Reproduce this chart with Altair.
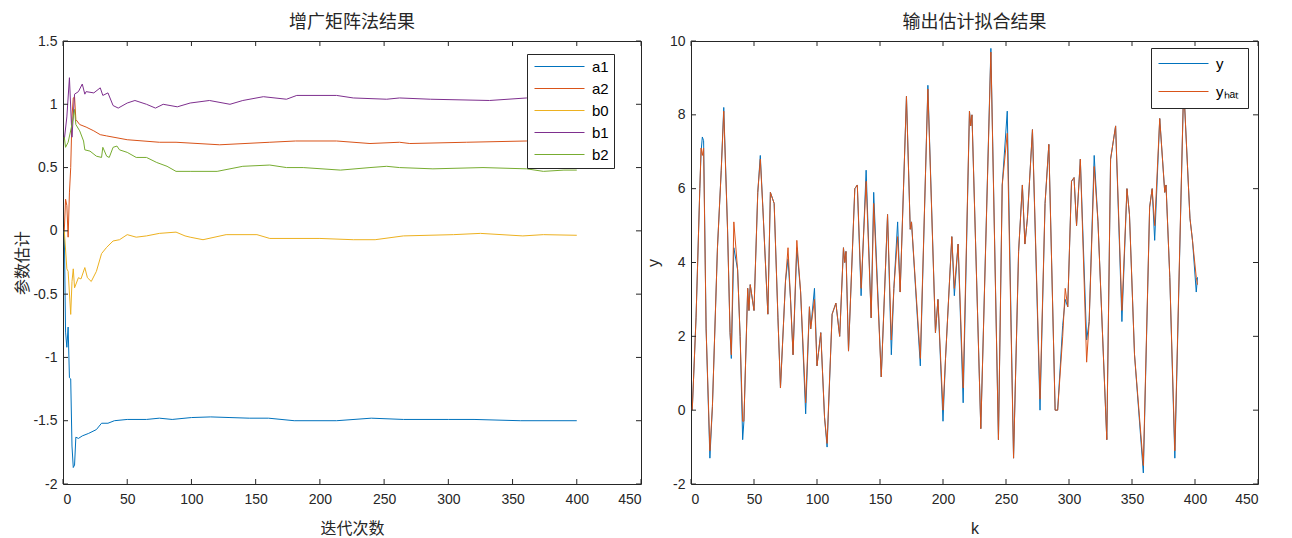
import altair as alt
import pandas as pd

# ---------------- Left panel: parameter estimates ----------------
a1_k = [1, 2, 3, 4, 5, 6, 7, 8, 9, 10, 12, 15, 20, 26, 30, 35, 40, 50, 65, 75, 85, 100, 115, 130, 145, 160, 180, 213, 240, 265, 300, 320, 356, 400]
a1_v = [0.0, -0.8, -0.92, -0.76, -1.16, -1.17, -1.7, -1.87, -1.85, -1.63, -1.64, -1.62, -1.60, -1.57, -1.52, -1.52, -1.50, -1.49, -1.49, -1.48, -1.49, -1.475, -1.47, -1.475, -1.48, -1.48, -1.50, -1.50, -1.48, -1.49, -1.49, -1.49, -1.50, -1.50]

a2_k = [1, 2, 3, 4, 5, 6, 7, 8, 9, 10, 13, 18, 24, 29, 34, 50, 75, 88, 122, 161, 181, 213, 239, 262, 270, 314, 361, 400]
a2_v = [0.0, 0.25, 0.2, -0.05, 0.3, 0.5, 0.9, 1.05, 1.06, 0.88, 0.84, 0.82, 0.79, 0.76, 0.75, 0.72, 0.70, 0.70, 0.68, 0.70, 0.71, 0.71, 0.69, 0.70, 0.69, 0.70, 0.71, 0.70]

b0_k = [1, 3, 4, 6, 7, 8, 9, 12, 14, 17, 19, 22, 26, 30, 34, 39, 44, 50, 57, 65, 75, 88, 95, 99, 109, 127, 151, 161, 200, 226, 243, 265, 304, 325, 358, 374, 400]
b0_v = [0.0, -0.3, -0.32, -0.66, -0.4, -0.30, -0.45, -0.37, -0.38, -0.29, -0.37, -0.40, -0.32, -0.18, -0.13, -0.08, -0.07, -0.03, -0.05, -0.04, -0.02, -0.01, -0.04, -0.05, -0.07, -0.03, -0.03, -0.06, -0.06, -0.07, -0.07, -0.04, -0.03, -0.02, -0.04, -0.03, -0.035]

b1_k = [1, 3, 5, 7, 9, 12, 15, 17, 18, 24, 29, 31, 35, 39, 43, 50, 56, 65, 72, 78, 89, 99, 114, 130, 140, 156, 174, 182, 213, 226, 252, 262, 286, 332, 361, 400]
b1_v = [0.72, 0.9, 1.21, 0.74, 1.08, 1.10, 1.16, 1.08, 1.10, 1.09, 1.13, 1.07, 1.09, 0.99, 0.97, 1.01, 1.03, 1.0, 0.97, 1.0, 0.98, 1.01, 1.03, 1.0, 1.03, 1.06, 1.04, 1.07, 1.07, 1.05, 1.04, 1.05, 1.04, 1.03, 1.05, 1.05]

b2_k = [1, 2, 4, 7, 9, 10, 13, 16, 17, 21, 26, 30, 31, 34, 36, 39, 42, 44, 50, 57, 65, 73, 81, 88, 99, 120, 140, 161, 174, 187, 216, 239, 252, 262, 288, 327, 361, 374, 390, 400]
b2_v = [0.74, 0.66, 0.7, 0.84, 0.96, 0.84, 0.79, 0.71, 0.64, 0.63, 0.59, 0.58, 0.66, 0.59, 0.58, 0.66, 0.67, 0.64, 0.62, 0.58, 0.58, 0.54, 0.51, 0.47, 0.47, 0.47, 0.51, 0.52, 0.50, 0.50, 0.48, 0.50, 0.51, 0.50, 0.49, 0.50, 0.49, 0.47, 0.48, 0.48]

param_names = ["a1", "a2", "b0", "b1", "b2"]
param_colors = ["#0072BD", "#D95319", "#EDB120", "#7E2F8E", "#77AC30"]

# ---------------- Right panel: output fit ----------------
fit_k = [1, 4, 7, 8, 9, 10, 12, 15, 17, 21, 24, 26, 29, 31, 32, 34, 37, 39, 41, 42, 45, 46, 47, 50, 53, 55, 57, 61, 63, 66, 69, 71, 75, 77, 79, 81, 84, 87, 91, 94, 95, 98, 100, 103, 106, 108, 112, 115, 118, 121, 122, 123, 125, 130, 132, 135, 139, 143, 145, 151, 156, 159, 161, 164, 166, 171, 174, 175, 182, 188, 194, 196, 200, 202, 207, 209, 212, 216, 221, 222, 223, 230, 238, 244, 247, 251, 256, 260, 263, 265, 267, 271, 277, 281, 284, 289, 291, 295, 297, 299, 302, 304, 306, 309, 314, 316, 320, 323, 330, 333, 337, 342, 346, 348, 352, 359, 364, 366, 368, 372, 376, 377, 380, 384, 391, 396, 398, 401, 402]
fit_y = [0.0, 2.5, 6.0, 7.0, 7.4, 7.3, 2.2, -1.3, 0.1, 4.4, 6.5, 8.2, 4.9, 2.1, 1.4, 4.4, 3.8, 2.0, -0.8, -0.3, 3.3, 2.7, 3.4, 2.7, 5.9, 6.9, 5.5, 2.6, 5.9, 5.6, 2.5, 0.6, 3.5, 4.1, 3.0, 1.5, 4.4, 3.2, -0.1, 2.8, 2.2, 3.3, 1.2, 2.1, -0.2, -1.0, 2.6, 2.9, 2.0, 4.4, 4.0, 4.3, 1.6, 6.0, 6.1, 3.1, 6.5, 2.5, 5.9, 0.9, 5.3, 1.5, 3.3, 5.1, 3.2, 8.5, 4.9, 5.1, 1.2, 8.8, 2.1, 3.0, -0.3, 1.4, 4.7, 3.1, 4.5, 0.2, 8.1, 7.7, 8.0, -0.5, 9.8, -0.8, 6.1, 8.1, -1.3, 4.3, 6.1, 4.5, 5.2, 7.6, 0.0, 5.6, 7.2, 0.0, 0.0, 2.3, 3.0, 2.8, 6.2, 6.3, 5.0, 6.8, 1.9, 2.4, 6.9, 5.1, -0.8, 6.8, 7.7, 2.4, 6.0, 5.3, 1.5, -1.7, 5.5, 6.0, 4.6, 7.9, 5.9, 6.1, 3.6, -1.3, 8.8, 5.2, 4.6, 3.2, 3.6]
fit_yhat = [0.0, 2.5, 6.0, 7.1, 6.9, 7.1, 2.2, -1.1, 0.1, 4.4, 6.5, 8.1, 4.9, 2.1, 1.5, 5.1, 3.8, 2.0, -0.3, -0.3, 3.3, 2.7, 3.4, 2.7, 5.9, 6.8, 5.5, 2.6, 5.9, 5.6, 2.5, 0.6, 3.5, 4.4, 3.0, 1.5, 4.6, 3.2, 0.2, 2.8, 2.2, 3.0, 1.2, 2.1, -0.2, -0.9, 2.6, 2.9, 2.0, 4.4, 4.0, 4.3, 1.6, 6.0, 6.1, 3.3, 6.2, 2.5, 5.6, 0.9, 5.3, 1.9, 3.3, 4.7, 3.2, 8.5, 4.9, 5.1, 1.4, 8.7, 2.1, 3.0, 0.0, 1.4, 4.7, 3.3, 4.5, 0.6, 8.1, 7.7, 8.0, -0.5, 9.7, -0.8, 6.1, 7.5, -1.3, 4.3, 6.1, 4.5, 5.2, 7.6, 0.3, 5.6, 7.2, 0.0, 0.0, 2.0, 3.3, 2.8, 6.2, 6.3, 5.0, 6.8, 1.3, 2.4, 6.6, 5.1, -0.8, 6.8, 7.7, 2.7, 6.0, 5.3, 1.5, -1.5, 5.5, 6.0, 5.0, 7.9, 5.9, 6.1, 3.6, -1.1, 8.8, 5.2, 4.6, 3.6, 3.4]

fit_names = ["y", "y\u2095\u2090\u209c"]
fit_colors = ["#0072BD", "#D95319"]

x_ticks = [0, 50, 100, 150, 200, 250, 300, 350, 400, 450]
left_y_ticks = [-2, -1.5, -1, -0.5, 0, 0.5, 1, 1.5]
right_y_ticks = [-2, 0, 2, 4, 6, 8, 10]

# ---------------- tables ----------------
left_rows = []
for name, ks, vs in zip(param_names, [a1_k, a2_k, b0_k, b1_k, b2_k], [a1_v, a2_v, b0_v, b1_v, b2_v]):
    for k, v in zip(ks, vs):
        left_rows.append({"k": k, "v": v, "s": name})
left_df = pd.DataFrame(left_rows)

right_rows = []
for name, vs in zip(fit_names, [fit_y, fit_yhat]):
    for k, v in zip(fit_k, vs):
        right_rows.append({"k": k, "v": v, "s": name})
right_df = pd.DataFrame(right_rows)

INK = "#262626"
CJK = "Noto Sans CJK SC"
LAT = "Liberation Sans"


def panel(df, names, colors, yticks, ydomain, W, H, title, xtitle, ytitle,
          xtitle_font, ytitle_font, lx, ly, ytitle_pad, row_pad, leg_pad, sym_off):
    lab = "datum.value + ''"
    X = alt.X("k:Q", scale=alt.Scale(domain=[0, 450], nice=False, zero=False),
              axis=alt.Axis(values=x_ticks, labelExpr=lab, title=xtitle,
                            titleFont=xtitle_font, titleFontSize=16,
                            titleFontWeight="normal", titleColor=INK,
                            titlePadding=14, labelPadding=8))
    Y = alt.Y("v:Q", scale=alt.Scale(domain=ydomain, nice=False, zero=False),
              axis=alt.Axis(values=yticks, labelExpr=lab, title=ytitle,
                            titleFont=ytitle_font, titleFontSize=16,
                            titleFontWeight="normal", titleColor=INK,
                            titlePadding=ytitle_pad, labelPadding=6))
    lines = alt.Chart(df).mark_line(strokeWidth=1, clip=True).encode(
        x=X, y=Y,
        color=alt.Color("s:N", scale=alt.Scale(domain=names, range=colors),
                        legend=alt.Legend(title=None, orient="none",
                                          legendX=lx, legendY=ly,
                                          symbolType="M-5,0H5", symbolSize=100,
                                          symbolStrokeWidth=1, symbolOffset=sym_off,
                                          labelFont=LAT, labelFontSize=15,
                                          labelColor="#000000",
                                          fillColor="#ffffff", strokeColor=INK,
                                          padding=leg_pad, rowPadding=row_pad,
                                          labelOffset=25)),
    )
    xt = pd.DataFrame({"k": x_ticks})
    yt = pd.DataFrame({"v": yticks})
    bt = alt.Chart(xt).mark_rule(color=INK, strokeWidth=1).encode(
        x=X, y=alt.value(H - 5), y2=alt.value(H))
    tt = alt.Chart(xt).mark_rule(color=INK, strokeWidth=1).encode(
        x=X, y=alt.value(0), y2=alt.value(5))
    lt = alt.Chart(yt).mark_rule(color=INK, strokeWidth=1).encode(
        y=Y, x=alt.value(0), x2=alt.value(5))
    rt = alt.Chart(yt).mark_rule(color=INK, strokeWidth=1).encode(
        y=Y, x=alt.value(W - 5), x2=alt.value(W))
    return alt.layer(lines, bt, tt, lt, rt).properties(
        width=W, height=H,
        title=alt.TitleParams(title, font=CJK, fontSize=18, fontWeight="normal",
                              color=INK, offset=2))


left = panel(left_df, param_names, param_colors, left_y_ticks, [-2, 1.5],
             578, 443, "增广矩阵法结果", "迭代次数", "参数估计", CJK, CJK,
             464, 13, 2, 6, 5, 20)
right = panel(right_df, fit_names, fit_colors, right_y_ticks, [-2, 10],
              567, 443, "输出估计拟合结果", "k", "y", LAT, LAT,
              460, 7, 8, 12, 8, 17)

chart = alt.hconcat(left, right, spacing=2).resolve_scale(
    color="independent"
).properties(
    background="#ffffff",
    padding={"left": 6, "top": 5, "right": 5, "bottom": 0},
).configure_view(
    stroke=INK, strokeWidth=1
).configure_axis(
    grid=False, ticks=False, domain=False, labelFont=LAT, labelFontSize=14,
    labelColor=INK
)

chart.save("out.html", embed_options={"renderer": "svg", "actions": False})
